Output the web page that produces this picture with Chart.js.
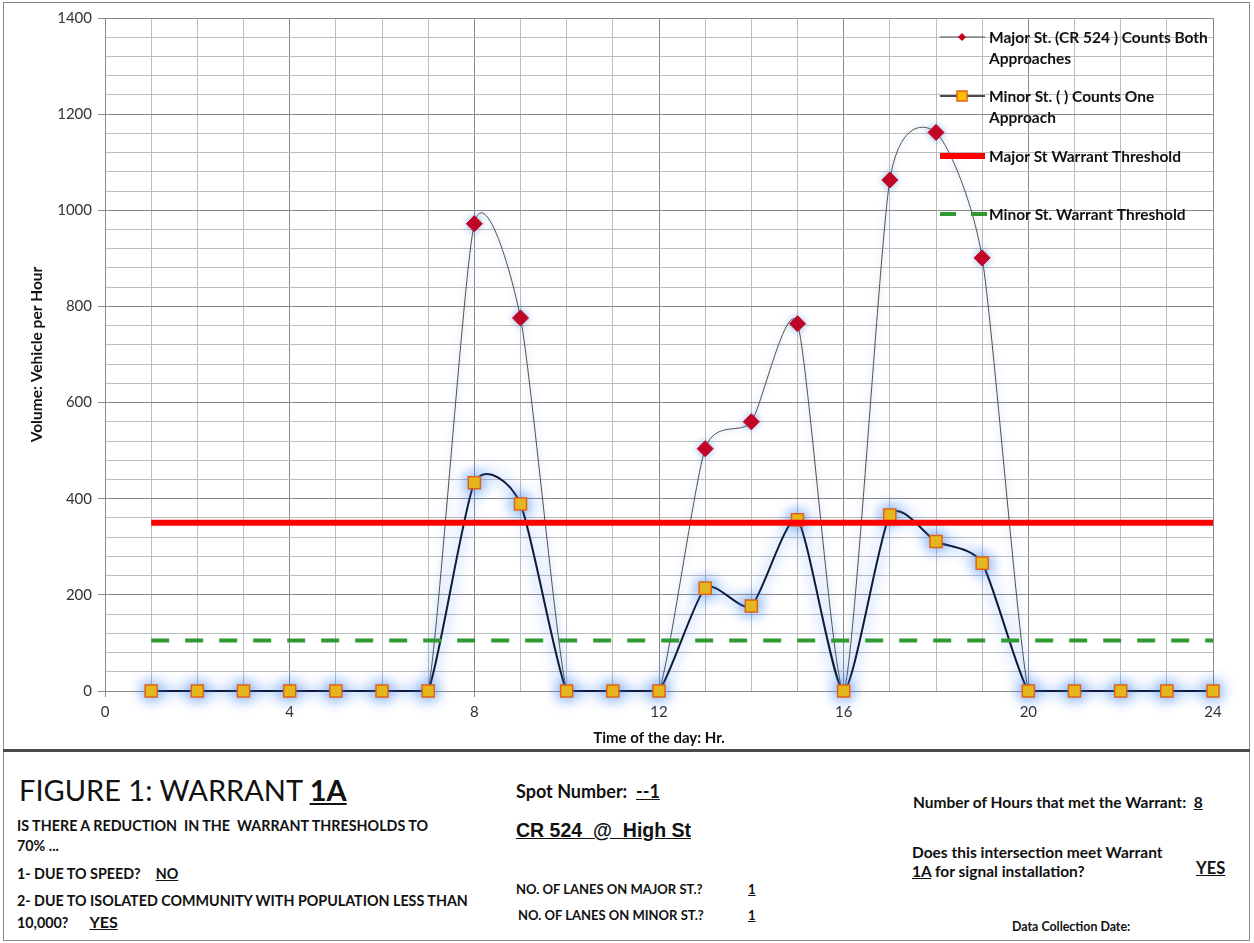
<!DOCTYPE html>
<html>
<head>
<meta charset="utf-8">
<script src="https://cdn.jsdelivr.net/npm/chart.js@4.4.1/dist/chart.umd.min.js"></script>
<style>
  html, body { margin: 0; padding: 0; background: #fff; }
  body { width: 1254px; height: 943px; position: relative; overflow: hidden; font-family: Lato, "Open Sans", sans-serif; color: #111; }
  #frame { position: absolute; left: 3px; top: 2px; width: 1245px; height: 937px; border: 1px solid #8a8a8a; }
  #chartBox { position: absolute; left: 0; top: 0; width: 1254px; height: 750px; }
  #sep { position: absolute; left: 3px; top: 749px; width: 1247px; height: 3px; background: #4a4a4a; }
  .t { position: absolute; white-space: pre; font-weight: bold; font-size: 14.3px; line-height: 16px; }
  .r { font-size: 15.5px; line-height: 18px; }
  .u { text-decoration: underline; }
</style>
</head>
<body>
<div id="frame"></div>
<div id="chartBox"><canvas id="warrantChart" width="1254" height="750"></canvas></div>
<div id="sep"></div>

<div class="t" style="left:19px; top:773px; font-size:29px; line-height:34px; font-weight:normal;">FIGURE 1: WARRANT <span class="u" style="font-weight:bold;">1A</span></div>
<div class="t" style="left:17px; top:818px;">IS THERE A REDUCTION  IN THE  WARRANT THRESHOLDS TO</div>
<div class="t" style="left:17px; top:838px;">70% ...</div>
<div class="t" style="left:17px; top:866px;">1- DUE TO SPEED?<span class="u" style="margin-left:15px;">NO</span></div>
<div class="t" style="left:17px; top:893px;">2- DUE TO ISOLATED COMMUNITY WITH POPULATION LESS THAN</div>
<div class="t" style="left:17px; top:914px;">10,000?<span class="u" style="margin-left:21px; font-size:16px;">YES</span></div>

<div class="t" style="left:516px; top:780px; font-size:18px; line-height:22px;">Spot Number:  <span class="u">--1</span></div>
<div class="t u" style="left:516px; top:819px; font-size:19.5px; line-height:22px; font-family:'Liberation Sans', Arial, sans-serif;">CR 524  @  High St</div>
<div class="t" style="left:516px; top:881px; font-size:13px;">NO. OF LANES ON MAJOR ST.?</div>
<div class="t u" style="left:748px; top:881px; font-size:13px;">1</div>
<div class="t" style="left:518px; top:907px; font-size:13px;">NO. OF LANES ON MINOR ST.?</div>
<div class="t u" style="left:748px; top:907px; font-size:13px;">1</div>

<div class="t r" style="left:913px; top:793px;">Number of Hours that met the Warrant:  <span class="u">8</span></div>
<div class="t r" style="left:912px; top:843px;">Does this intersection meet Warrant</div>
<div class="t r" style="left:912px; top:862px;"><span class="u">1A</span> for signal installation?</div>
<div class="t u" style="left:1196px; top:859px; font-size:16.5px; line-height:18px;">YES</div>
<div class="t" style="left:1012px; top:920px; font-size:12.4px; line-height:14px;">Data Collection Date:</div>

<script>
// hourly volumes, hour 1 .. 24
const hours = [1, 2, 3, 4, 5, 6, 7, 8, 9, 10, 11, 12, 13, 14, 15, 16, 17, 18, 19, 20, 21, 22, 23, 24];
const majorCounts = [0, 0, 0, 0, 0, 0, 0, 972, 776, 0, 0, 0, 504, 560, 764, 0, 1063, 1162, 901, 0, 0, 0, 0, 0];
const minorCounts = [0, 0, 0, 0, 0, 0, 0, 433, 389, 0, 0, 0, 214, 177, 356, 0, 366, 311, 266, 0, 0, 0, 0, 0];

// warrant thresholds (70% values)
const majorThreshold = 350;
const minorThreshold = 105;
const thresholdHours = [1, 24];

const xTicks = [0, 4, 8, 12, 16, 20, 24];
const yTicks = [0, 200, 400, 600, 800, 1000, 1200, 1400];

const legendLabels = [
    ['Major St. (CR 524 ) Counts Both', 'Approaches'],
    ['Minor St. ( ) Counts One', 'Approach'],
    ['Major St Warrant Threshold'],
    ['Minor St. Warrant Threshold']
];

const pts = (xs, ys) => xs.map((x, i) => ({ x: x, y: ys[i] }));

// spreadsheet-style smoothing: evenly weighted bezier handles, kept inside the plot
const smoothPlugin = {
    id: 'smooth',
    beforeDatasetDraw(chart, args) {
        const ds = chart.data.datasets[args.index];
        if (!ds.smooth) return;
        const meta = chart.getDatasetMeta(args.index);
        const area = chart.chartArea;
        meta.dataset.updateControlPoints(area, 'x');
        const p = meta.data;
        const k = ds.smooth;
        const capY = y => Math.min(Math.max(y, area.top), area.bottom);
        p.forEach((pt, i) => {
            const prev = p[i - 1] || pt;
            const next = p[i + 1] || pt;
            const dx = next.x - prev.x, dy = next.y - prev.y;
            pt.cp1x = pt.x - k * dx; pt.cp1y = capY(pt.y - k * dy);
            pt.cp2x = pt.x + k * dx; pt.cp2y = capY(pt.y + k * dy);
        });
    }
};

// soft blue halo behind a dataset
const glowPlugin = {
    id: 'glow',
    beforeDatasetDraw(chart, args) {
        const ds = chart.data.datasets[args.index];
        if (!ds.glowColor) return;
        chart.ctx.save();
        chart.ctx.shadowColor = ds.glowColor;
        chart.ctx.shadowBlur = ds.glowBlur;
    },
    afterDatasetDraw(chart, args) {
        const ds = chart.data.datasets[args.index];
        if (ds.glowColor) chart.ctx.restore();
    }
};

// legend inside the plot, top right
const sideLegend = {
    id: 'sideLegend',
    afterDraw(chart) {
        const ctx = chart.ctx;
        const [major, minor, majT, minT] = ['major', 'minor', 'majT', 'minT'].map(k => chart.data.datasets.find(d => d.key === k));
        const x0 = 940, x1 = 985, tx = 989, cx = 962;
        const rows = [37, 96, 156, 214];
        ctx.save();
        ctx.font = 'bold 15.5px Lato';
        ctx.fillStyle = '#111';
        ctx.textBaseline = 'middle';
        rows.forEach((y, i) => {
            legendLabels[i].forEach((s, j) => ctx.fillText(s, tx, y + 1 + j * 21));
        });

        // major sample
        ctx.strokeStyle = major.borderColor; ctx.lineWidth = 1;
        ctx.beginPath(); ctx.moveTo(x0, rows[0]); ctx.lineTo(x1, rows[0]); ctx.stroke();
        ctx.fillStyle = major.pointBackgroundColor;
        ctx.beginPath();
        ctx.moveTo(cx, rows[0] - 4); ctx.lineTo(cx + 4, rows[0]); ctx.lineTo(cx, rows[0] + 4); ctx.lineTo(cx - 4, rows[0]);
        ctx.closePath(); ctx.fill();

        // minor sample
        ctx.strokeStyle = '#111'; ctx.lineWidth = 1.5;
        ctx.beginPath(); ctx.moveTo(x0, rows[1]); ctx.lineTo(x1, rows[1]); ctx.stroke();
        ctx.fillStyle = minor.pointBackgroundColor; ctx.strokeStyle = minor.pointBorderColor; ctx.lineWidth = 1.5;
        ctx.fillRect(cx - 5, rows[1] - 5, 10, 10); ctx.strokeRect(cx - 5, rows[1] - 5, 10, 10);

        // thresholds
        ctx.strokeStyle = majT.borderColor; ctx.lineWidth = majT.borderWidth;
        ctx.beginPath(); ctx.moveTo(x0, rows[2]); ctx.lineTo(x1, rows[2]); ctx.stroke();
        ctx.strokeStyle = minT.borderColor; ctx.lineWidth = minT.borderWidth;
        ctx.setLineDash([16, 15]);
        ctx.beginPath(); ctx.moveTo(x0, rows[3]); ctx.lineTo(x1 + 2, rows[3]); ctx.stroke();
        ctx.restore();
    }
};

const ctx = document.getElementById('warrantChart').getContext('2d');

new Chart(ctx, {
    type: 'line',
    data: {
        datasets: [
            {
                key: 'majT',
                data: pts(thresholdHours, [majorThreshold, majorThreshold]),
                borderColor: '#ff0000',
                borderWidth: 6,
                pointRadius: 0,
                order: 0
            },
            {
                key: 'minT',
                data: pts(thresholdHours, [minorThreshold, minorThreshold]),
                borderColor: '#2f9a32',
                borderWidth: 4,
                borderDash: [18, 16],
                pointRadius: 0,
                order: 0
            },
            {
                key: 'minor',
                data: pts(hours, minorCounts),
                borderColor: '#101a3a',
                borderWidth: 2,
                tension: 0.3,
                smooth: 0.11,
                clip: false,
                pointStyle: 'rect',
                pointRadius: 8.5,
                pointBackgroundColor: '#ffc000',
                pointBorderColor: '#e0621a',
                pointBorderWidth: 1.5,
                glowColor: 'rgba(50,120,235,1)',
                glowBlur: 15,
                order: 1
            },
            {
                key: 'major',
                data: pts(hours, majorCounts),
                borderColor: '#505050',
                borderWidth: 1,
                tension: 0.3,
                smooth: 0.11,
                clip: false,
                pointStyle: 'rectRot',
                pointRadius: c => (c.raw && c.raw.y > 0 ? 8 : 0),
                pointBackgroundColor: '#c8001e',
                pointBorderColor: '#c8001e',
                pointBorderWidth: 1,
                glowColor: 'rgba(60,130,220,0.55)',
                glowBlur: 7,
                order: 2
            }
        ]
    },
    options: {
        responsive: false,
        animation: false,
        layout: { padding: { left: 0, top: 18, right: 41, bottom: 0 } },
        plugins: {
            legend: { display: false },
            tooltip: { enabled: false }
        },
        scales: {
            x: {
                type: 'linear',
                min: 0,
                max: 24,
                afterFit: s => { s.height = 59; },
                ticks: {
                    stepSize: 1,
                    autoSkip: false,
                    maxRotation: 0,
                    padding: 6,
                    color: '#333',
                    font: { family: 'Lato', size: 15 },
                    callback: v => (xTicks.includes(v) ? v : '')
                },
                grid: {
                    color: c => (xTicks.includes(c.tick.value) ? '#8a8a8a' : '#bdbdbd'),
                    tickColor: c => (xTicks.includes(c.tick.value) ? '#8a8a8a' : 'rgba(0,0,0,0)'),
                    tickLength: 6
                },
                border: { color: '#8a8a8a' },
                title: {
                    display: true,
                    text: 'Time of the day: Hr.',
                    color: '#111',
                    font: { family: 'Lato', size: 15, weight: 'bold' },
                    padding: { top: 0, bottom: 3 }
                }
            },
            y: {
                min: 0,
                max: 1400,
                afterFit: s => { s.width = 105; },
                ticks: {
                    stepSize: 40,
                    autoSkip: false,
                    padding: 6,
                    color: '#333',
                    font: { family: 'Lato', size: 15 },
                    callback: v => (yTicks.includes(v) ? v : '')
                },
                grid: {
                    color: c => (yTicks.includes(c.tick.value) ? '#8a8a8a' : '#bdbdbd'),
                    tickColor: c => (yTicks.includes(c.tick.value) ? '#8a8a8a' : 'rgba(0,0,0,0)'),
                    tickLength: 7
                },
                border: { color: '#8a8a8a' },
                title: {
                    display: true,
                    text: 'Volume: Vehicle per Hour',
                    color: '#111',
                    font: { family: 'Lato', size: 15.5, weight: 'bold' },
                    padding: { top: 28, bottom: 0 }
                }
            }
        }
    },
    plugins: [smoothPlugin, glowPlugin, sideLegend]
});
</script>
</body>
</html>
